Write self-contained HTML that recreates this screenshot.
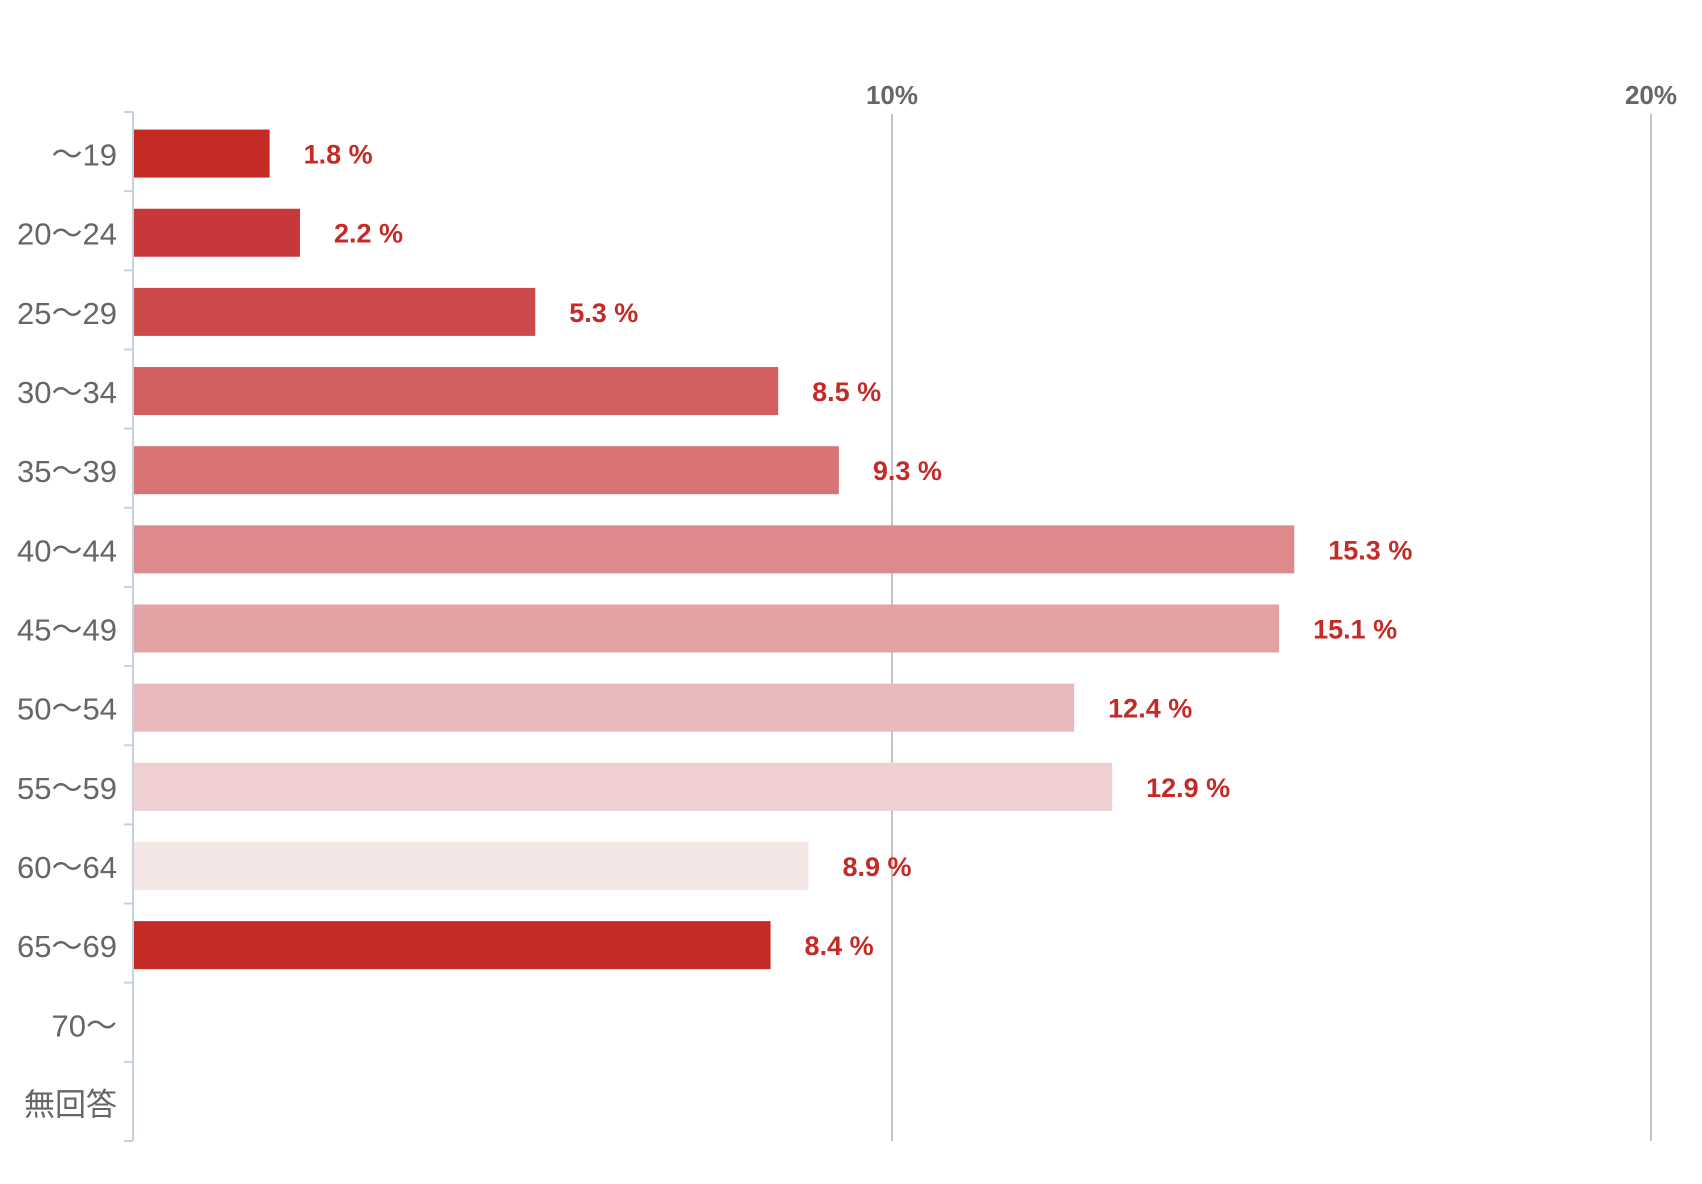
<!DOCTYPE html>
<html><head><meta charset="utf-8"><style>
html,body{margin:0;padding:0;background:#fff;}
svg{display:block;}
text{font-family:"Liberation Sans","Noto Sans CJK JP",sans-serif;}
</style></head><body>
<svg id="chart" width="1702" height="1184" xmlns="http://www.w3.org/2000/svg"></svg>
<script>
const categories = ["～19","20～24","25～29","30～34","35～39","40～44","45～49","50～54","55～59","60～64","65～69","70～","無回答"];
const values = [1.8,2.2,5.3,8.5,9.3,15.3,15.1,12.4,12.9,8.9,8.4,null,null];
const colors = ["#c42b27","#c8383a","#cd4a4a","#d35e5f","#d97475","#de8a8c","#e3a3a4","#e9b8ba","#efcfd1","#f5e6e6","#c42b27"];
const ticks = [10,20];
const tickLabels = ["10%","20%"];

const svgEl = document.getElementById('chart');
const NS = "http://www.w3.org/2000/svg";
const x0 = 133, pxPer = 75.9, yTop = 112, yBottom = 1141;
const band = (yBottom - yTop) / categories.length;
const xScale = v => x0 + v * pxPer;
const yBand = i => yTop + i * band;
function mk(tag, attrs){const e=document.createElementNS(NS,tag);for(const k in attrs)e.setAttribute(k,attrs[k]);svgEl.appendChild(e);return e;}

ticks.forEach((t,i)=>{
  const gl = mk('line',{x1:xScale(t),x2:xScale(t),y1:114,y2:yBottom,stroke:'#c4c4c4','stroke-width':2});
  
  
  const tl = mk('text',{x:xScale(t),y:104,'text-anchor':'middle','font-size':26,'font-weight':'bold',fill:'#666'});
  tl.textContent = tickLabels[i];
  
  
});

const ax = mk('line',{x1:x0,x2:x0,y1:yTop,y2:yBottom,stroke:'#c5d1e0','stroke-width':2});



for(let i=0;i<=categories.length;i++){
  const tk = mk('line',{x1:124,x2:x0,y1:yBand(i),y2:yBand(i),stroke:'#c5d1e0','stroke-width':2});
  
  
}

categories.forEach((c,i)=>{
  const cy = yBand(i) + band/2 + 2;
  const lb = mk('text',{x:117,y:cy+12,'text-anchor':'end','font-size':31,fill:'#666'});
  lb.textContent = c;
  
  
  const v = values[i];
  if(v!==null && v!==undefined){
    const r = mk('rect',{x:x0+1,y:cy-24,width:xScale(v)-x0-1,height:48,fill:colors[i%colors.length]});
    
    
    const vl = mk('text',{x:xScale(v)+34,y:cy+10,'font-size':27,'font-weight':'bold',fill:'#c42b27'});
    vl.textContent = v.toFixed(1)+' %';
    
    
  }
});
</script>
</body></html>
